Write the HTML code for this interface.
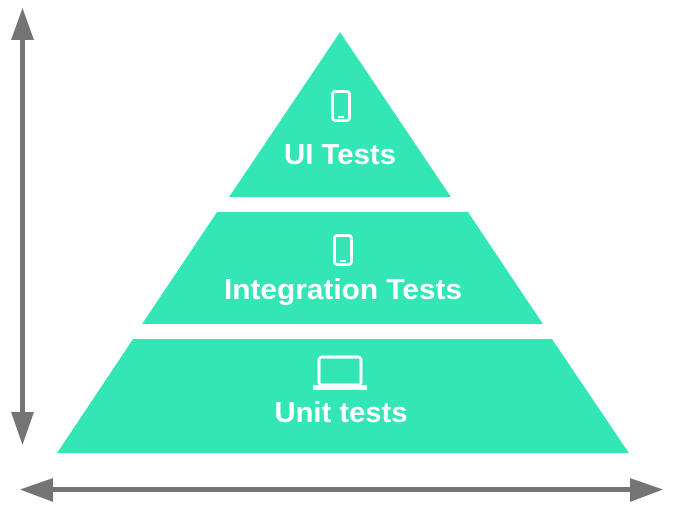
<!DOCTYPE html>
<html><head><style>html,body{margin:0;padding:0;background:#fff}svg{display:block}</style></head>
<body>
<svg width="673" height="505" viewBox="0 0 673 505" xmlns="http://www.w3.org/2000/svg">
<g fill="#33e6b6">
<polygon points="340,32 451,197 229,197"/>
<polygon points="217,212 468,212 543,324 142,324"/>
<polygon points="133,339 552,339 629,453 57,453"/>
</g>
<g fill="#747474">
<rect x="20" y="36" width="5" height="380"/>
<polygon points="22.5,8 34,40 11,40"/>
<polygon points="22.5,445 34,412 11,412"/>
<rect x="48" y="487" width="585" height="5"/>
<polygon points="20,489.5 53,478 53,502"/>
<polygon points="663,489.5 630,478 630,502"/>
</g>
<g fill="none" stroke="#fff" stroke-width="3">
<rect x="332.5" y="91.5" width="17" height="29" rx="3"/>
<rect x="334.5" y="235.5" width="17" height="29" rx="3"/>
<rect x="319" y="357" width="42" height="28" rx="3"/>
</g>
<g fill="#fff">
<rect x="338" y="116" width="6" height="2"/>
<rect x="340" y="260" width="6" height="2"/>
<rect x="313" y="385" width="54" height="5"/>
</g>
<g fill="#fff" font-family="Liberation Sans, sans-serif" font-weight="bold" font-size="29" text-anchor="middle">
<text x="340" y="164" textLength="112" lengthAdjust="spacingAndGlyphs">UI Tests</text>
<text x="343" y="299" textLength="238" lengthAdjust="spacingAndGlyphs">Integration Tests</text>
<text x="341" y="422" textLength="133" lengthAdjust="spacingAndGlyphs">Unit tests</text>
</g>
</svg>
</body></html>
